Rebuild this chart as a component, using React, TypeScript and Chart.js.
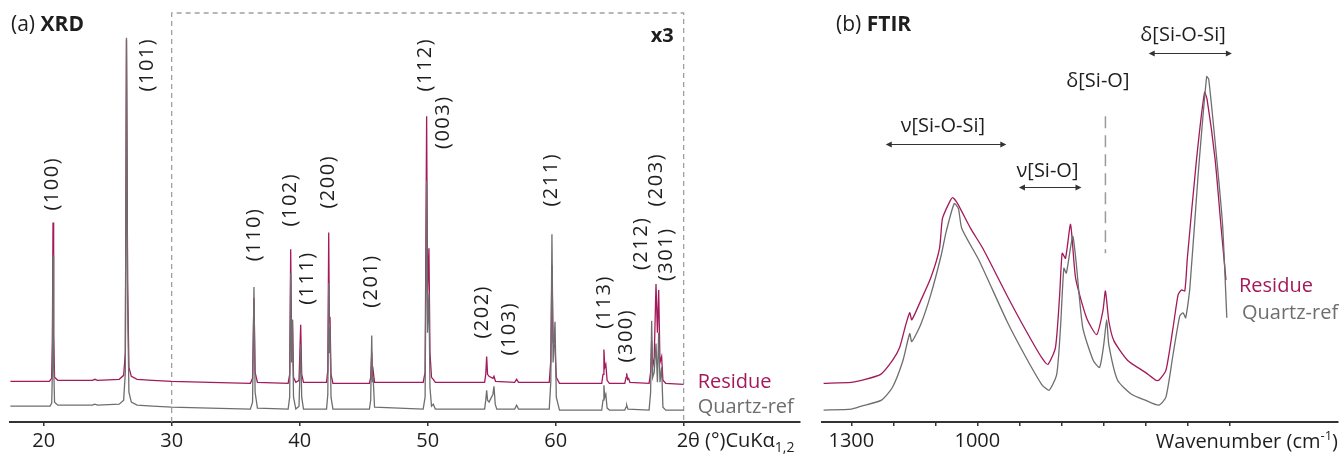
import React, { useEffect, useRef } from 'react';
import { Chart, registerables } from 'chart.js';

Chart.register(...registerables);

const RESIDUE_COLOR = '#a3195b';
const QUARTZ_COLOR = '#6e6e6e';
const TEXT_COLOR = '#1e1e1e';
const FONT = '"Open Sans", "DejaVu Sans", sans-serif';

// ---------------- XRD (2θ in degrees, intensity in a.u.; region 30-70° shown x3) ----------------
const xrdResidueTheta = [
  17.4, 20.45, 20.62, 20.68, 20.73, 20.78, 20.85, 21.1, 23.8, 24.0, 24.2, 25.9, 26.25, 26.38, 26.47, 26.56, 26.66, 26.85, 27.3, 28.5,
  30, 33, 36.15, 36.32, 36.43, 36.52, 36.7, 39.1, 39.22, 39.3, 39.37, 39.44, 39.52, 39.7, 39.95, 40.08, 40.16, 40.3,
  42.1, 42.2, 42.27, 42.32, 42.37, 42.45, 42.6, 45.45, 45.55, 45.63, 45.69, 45.74, 45.85, 49.65, 49.8, 49.92, 49.99, 50.1, 50.18, 50.3, 50.44, 50.6,
  54.45, 54.54, 54.61, 54.68, 54.8, 55.1, 55.18, 55.3, 56.8, 56.95, 57.1, 59.5, 59.62, 59.71, 59.8, 59.95, 60.05, 60.3,
  63.6, 63.7, 63.77, 63.84, 63.92, 64.02, 64.2, 65.4, 65.5, 65.55, 65.62, 65.7, 65.8,
  67.3, 67.42, 67.5, 67.58, 67.7, 67.84, 67.95, 68.05, 68.15, 68.28, 68.38, 68.6, 70,
];
const xrdResidueI = [
  41, 41, 44, 80, 201, 90, 45, 42, 42, 43, 42, 43, 47, 70, 385, 140, 55, 46, 43, 42,
  41, 40, 39, 44, 125, 50, 40, 39, 48, 174, 80, 103, 45, 40, 42, 98, 48, 40,
  40, 52, 191, 100, 106, 48, 39, 39, 45, 70, 48, 52, 40, 40, 50, 308, 130, 175, 70, 45, 43, 40,
  40, 48, 66, 48, 46, 44, 46, 41, 40, 43, 40, 40, 62, 158, 80, 75, 45, 39,
  39, 48, 73, 55, 58, 42, 39, 39, 45, 49, 43, 44, 40,
  39, 50, 82, 55, 65, 139, 90, 133, 60, 66, 42, 39, 38,
];
const xrdQuartzTheta = [
  17.4, 20.5, 20.63, 20.68, 20.73, 20.78, 20.85, 21.1, 23.8, 24.0, 24.2, 25.9, 26.25, 26.38, 26.47, 26.56, 26.66, 26.85, 27.3, 28.5,
  30, 33, 36.15, 36.32, 36.43, 36.52, 36.7, 39.1, 39.22, 39.3, 39.37, 39.44, 39.52, 39.7, 39.95, 40.08, 40.16, 40.3,
  42.1, 42.2, 42.27, 42.32, 42.37, 42.45, 42.6, 45.45, 45.55, 45.63, 45.69, 45.74, 45.85, 49.65, 49.8, 49.92, 49.99, 50.1, 50.18, 50.3, 50.44, 50.6,
  54.45, 54.54, 54.61, 54.68, 54.8, 55.1, 55.18, 55.28, 55.4, 56.8, 56.95, 57.1, 59.5, 59.62, 59.71, 59.8, 59.95, 60.05, 60.3,
  63.6, 63.7, 63.77, 63.84, 63.92, 64.02, 64.2, 65.4, 65.5, 65.55, 65.65,
  67.3, 67.42, 67.5, 67.58, 67.7, 67.84, 67.95, 68.05, 68.15, 68.28, 68.38, 68.6, 70,
];
const xrdQuartzI = [
  16, 16, 19, 50, 168, 60, 20, 17, 17, 18, 17, 18, 22, 50, 387, 120, 30, 20, 17, 16,
  15, 14, 13, 20, 136, 30, 14, 13, 25, 150, 60, 103, 25, 13, 16, 78, 25, 13,
  13, 28, 140, 70, 95, 25, 13, 13, 22, 87, 40, 45, 15, 13, 25, 243, 90, 130, 35, 16, 18, 13,
  13, 22, 32, 22, 20, 28, 36, 18, 13, 13, 17, 13, 13, 40, 189, 60, 101, 25, 12,
  12, 22, 37, 25, 28, 14, 12, 12, 15, 17, 13,
  12, 30, 102, 45, 50, 79, 40, 90, 40, 55, 15, 12, 12,
];
const xrdTicks = [20, 30, 40, 50, 60, 70];
const xrdTickLabels = ['20', '30', '40', '50', '60', ''];
const xrdHkl = ['(100)', '(101)', '(110)', '(102)', '(111)', '(200)', '(201)', '(112)', '(003)', '(202)', '(103)', '(211)', '(113)', '(300)', '(212)', '(203)', '(301)'];
const xrdHklTheta = [20.65, 28.07, 36.43, 39.24, 40.57, 42.21, 45.57, 49.8, 51.2, 54.24, 56.35, 59.63, 63.77, 65.49, 66.66, 67.84, 68.62];
const xrdHklY = [240, 360, 189, 224, 145, 242, 142, 360, 302, 111, 94, 244, 121, 87, 180, 244, 169];

// ---------------- FTIR (wavenumber in cm-1, absorbance in a.u.) ----------------
const ftirResidueWn = [
  1366, 1300, 1276, 1230, 1202, 1185, 1171, 1161, 1156, 1135, 1111, 1090, 1083, 1068, 1059, 1047, 1016, 987, 930, 888, 847, 832,
  814, 804, 798, 790, 778, 766, 740, 716, 701, 695, 687, 675, 642, 600, 575, 568, 551, 534, 522, 514, 506, 500, 478, 459, 453, 434, 420, 408,
];
const ftirResidueA = [
  39, 40, 42, 48, 62, 75, 97, 110, 103, 122, 145, 175, 205, 220, 226, 220, 195, 175, 128, 95, 65, 58,
  75, 128, 170, 165, 199, 145, 105, 88, 112, 132, 102, 82, 62, 50, 42, 42, 52, 95, 128, 133, 132, 165, 265, 332, 325, 265, 198, 143,
];
const ftirQuartzWn = [
  1366, 1300, 1276, 1228, 1202, 1177, 1161, 1156, 1135, 1111, 1086, 1074, 1055, 1045, 1037, 995, 930, 888, 847, 829,
  811, 802, 794, 788, 773, 765, 749, 724, 709, 699, 692, 687, 666, 633, 600, 568, 551, 534, 518, 510, 504, 494, 475, 454, 449, 430, 416, 406,
];
const ftirQuartzA = [
  12, 13, 16, 22, 35, 62, 89, 81, 98, 128, 168, 192, 220, 215, 195, 162, 102, 68, 38, 32,
  48, 95, 155, 150, 187, 162, 95, 62, 55, 78, 103, 78, 42, 28, 22, 17, 25, 68, 107, 110, 105, 135, 245, 348, 345, 265, 198, 105,
];
const ftirTicks = [1300, 1200, 1100, 1000, 900, 800, 700, 600, 500, 400];
const ftirTickLabels = ['1300', '', '', '1000', '', '', '', '', '', ''];
const ftirBands = ['ν[Si-O-Si]', 'ν[Si-O]', 'δ[Si-O]', 'δ[Si-O-Si]'];
const ftirBandWn = [1082, 833, 713, 510];
const ftirBandY = [298, 253, 343, 390];
const ftirArrowFrom = [1218, 901, null, 592];
const ftirArrowTo = [931, 752, null, 394];
const ftirArrowY = [280, 237, null, 372];
const ftirMarkerWn = 695;
const ftirMarkerTop = 308;
const ftirMarkerBottom = 170;

function pts(xs: number[], ys: number[]) {
  return xs.map((x, i) => ({ x, y: ys[i] }));
}

function drawRich(ctx: CanvasRenderingContext2D, parts: { t: string; font: string; dy?: number }[], x: number, y: number, align: 'left' | 'right') {
  let total = 0;
  for (const p of parts) {
    ctx.font = p.font;
    total += ctx.measureText(p.t).width;
  }
  let cx = align === 'left' ? x : x - total;
  ctx.textAlign = 'left';
  for (const p of parts) {
    ctx.font = p.font;
    ctx.fillText(p.t, cx, y + (p.dy || 0));
    cx += ctx.measureText(p.t).width;
  }
}

function arrow(ctx: CanvasRenderingContext2D, x0: number, x1: number, y: number) {
  const hl = 6, hw = 3;
  ctx.beginPath();
  ctx.moveTo(x0 + 2, y);
  ctx.lineTo(x1 - 2, y);
  ctx.stroke();
  const dir = x1 > x0 ? 1 : -1;
  ctx.beginPath();
  ctx.moveTo(x0, y);
  ctx.lineTo(x0 + dir * hl, y - hw);
  ctx.lineTo(x0 + dir * hl, y + hw);
  ctx.closePath();
  ctx.fill();
  ctx.beginPath();
  ctx.moveTo(x1, y);
  ctx.lineTo(x1 - dir * hl, y - hw);
  ctx.lineTo(x1 - dir * hl, y + hw);
  ctx.closePath();
  ctx.fill();
}

const xrdDecor = {
  id: 'xrdDecor',
  beforeDatasetsDraw(chart: any) {
    const { ctx, chartArea, scales } = chart;
    const x = scales.x;
    ctx.save();
    ctx.strokeStyle = '#a0a0a0';
    ctx.lineWidth = 1.3;
    ctx.setLineDash([5, 4]);
    const x0 = x.getPixelForValue(30);
    const x1 = x.getPixelForValue(70);
    ctx.beginPath();
    ctx.moveTo(x0, chartArea.bottom);
    ctx.lineTo(x0, chartArea.top);
    ctx.lineTo(x1, chartArea.top);
    ctx.lineTo(x1, chartArea.bottom);
    ctx.stroke();
    ctx.restore();
  },
  afterDatasetsDraw(chart: any) {
    const { ctx, chartArea, scales } = chart;
    const x = scales.x, y = scales.y;
    ctx.save();
    ctx.fillStyle = TEXT_COLOR;
    ctx.textBaseline = 'middle';
    // hkl labels
    ctx.font = `20px ${FONT}`;
    (ctx as any).letterSpacing = '1.5px';
    xrdHkl.forEach((lab, i) => {
      ctx.save();
      ctx.translate(x.getPixelForValue(xrdHklTheta[i]), y.getPixelForValue(xrdHklY[i]));
      ctx.rotate(-Math.PI / 2);
      ctx.textAlign = 'center';
      ctx.fillText(lab, 0, 0);
      ctx.restore();
    });
    (ctx as any).letterSpacing = '0px';
    // x3
    ctx.font = `bold 20px ${FONT}`;
    ctx.textAlign = 'right';
    ctx.fillText('x3', x.getPixelForValue(70) - 10, chartArea.top + 23);
    // title
    ctx.textBaseline = 'alphabetic';
    drawRich(ctx, [
      { t: '(a) ', font: `21px ${FONT}` },
      { t: 'XRD', font: `bold 21px ${FONT}` },
    ], 11, 31, 'left');
    // legend
    ctx.textBaseline = 'middle';
    ctx.textAlign = 'left';
    ctx.font = `20px ${FONT}`;
    ctx.fillStyle = RESIDUE_COLOR;
    ctx.fillText('Residue', x.getPixelForValue(70) + 14, y.getPixelForValue(40));
    ctx.fillStyle = QUARTZ_COLOR;
    ctx.fillText('Quartz-ref', x.getPixelForValue(70) + 14, y.getPixelForValue(15));
    // axis title
    ctx.fillStyle = TEXT_COLOR;
    ctx.textBaseline = 'alphabetic';
    drawRich(ctx, [
      { t: '2θ (°)CuKα', font: `20px ${FONT}` },
      { t: '1,2', font: `14px ${FONT}`, dy: 5 },
    ], x.getPixelForValue(70) - 7, chartArea.bottom + 25, 'left');
    ctx.restore();
  },
};

const ftirDecor = {
  id: 'ftirDecor',
  afterDatasetsDraw(chart: any) {
    const { ctx, chartArea, scales } = chart;
    const x = scales.x, y = scales.y;
    ctx.save();
    ctx.fillStyle = TEXT_COLOR;
    ctx.strokeStyle = '#333';
    ctx.lineWidth = 1.2;
    ctx.textBaseline = 'middle';
    ctx.textAlign = 'center';
    ctx.font = `20px ${FONT}`;
    ftirBands.forEach((lab, i) => {
      ctx.fillText(lab, x.getPixelForValue(ftirBandWn[i]), y.getPixelForValue(ftirBandY[i]));
      const a = ftirArrowFrom[i], b = ftirArrowTo[i], ay = ftirArrowY[i];
      if (a !== null && b !== null && ay !== null) {
        ctx.fillStyle = '#333';
        arrow(ctx, x.getPixelForValue(a), x.getPixelForValue(b), Math.round(y.getPixelForValue(ay)) + 0.5);
        ctx.fillStyle = TEXT_COLOR;
      }
    });
    // dashed marker
    ctx.save();
    ctx.strokeStyle = '#9a9a9a';
    ctx.lineWidth = 1.5;
    ctx.setLineDash([12, 7]);
    const mx = x.getPixelForValue(ftirMarkerWn);
    ctx.beginPath();
    ctx.moveTo(mx, y.getPixelForValue(ftirMarkerTop));
    ctx.lineTo(mx, y.getPixelForValue(ftirMarkerBottom));
    ctx.stroke();
    ctx.restore();
    // title
    ctx.textBaseline = 'alphabetic';
    drawRich(ctx, [
      { t: '(b) ', font: `21px ${FONT}` },
      { t: 'FTIR', font: `bold 21px ${FONT}` },
    ], chartArea.left + 14, 31, 'left');
    // legend
    ctx.textBaseline = 'middle';
    ctx.textAlign = 'left';
    ctx.font = `20px ${FONT}`;
    ctx.fillStyle = RESIDUE_COLOR;
    ctx.fillText('Residue', x.getPixelForValue(377), y.getPixelForValue(137));
    ctx.fillStyle = QUARTZ_COLOR;
    ctx.fillText('Quartz-ref', x.getPixelForValue(370), y.getPixelForValue(110));
    // axis title
    ctx.fillStyle = TEXT_COLOR;
    ctx.textBaseline = 'alphabetic';
    drawRich(ctx, [
      { t: 'Wavenumber (cm', font: `20px ${FONT}` },
      { t: '-1', font: `13px ${FONT}`, dy: -8 },
      { t: ')', font: `20px ${FONT}` },
    ], chartArea.right, chartArea.bottom + 26, 'right');
    ctx.restore();
  },
};

function axisX(min: number, max: number, ticks: number[], labels: string[], reverse: boolean) {
  return {
    type: 'linear' as const,
    min,
    max,
    reverse,
    afterBuildTicks: (axis: any) => {
      axis.ticks = ticks.map((v) => ({ value: v }));
    },
    grid: {
      display: true,
      drawOnChartArea: false,
      drawTicks: true,
      tickLength: 4,
      color: '#333',
      lineWidth: 1.5,
    },
    border: { display: true, color: '#333', width: 2 },
    ticks: {
      autoSkip: false,
      maxRotation: 0,
      padding: 3,
      color: TEXT_COLOR,
      font: { size: 20, family: FONT },
      callback: (_v: any, i: number) => labels[i] ?? '',
    },
  };
}

function ChartBox(props: { left: number; width: number; build: (c: HTMLCanvasElement) => Chart }) {
  const ref = useRef<HTMLCanvasElement>(null);
  const { build } = props;
  useEffect(() => {
    if (!ref.current) return;
    const ch = build(ref.current);
    return () => ch.destroy();
  }, [build]);
  return (
    <div style={{ position: 'absolute', left: props.left, top: 0, width: props.width, height: 461 }}>
      <canvas ref={ref} width={props.width} height={461} style={{ width: props.width, height: 461 }} />
    </div>
  );
}

const XRD_W = 820;
const FTIR_LEFT = 805;
const FTIR_W = 536;

function buildXrd(c: HTMLCanvasElement) {
  return new Chart(c, {
    type: 'line',
    data: {
      datasets: [
        { label: 'Quartz-ref', data: pts(xrdQuartzTheta, xrdQuartzI), borderColor: QUARTZ_COLOR, borderWidth: 1.3, pointRadius: 0, tension: 0, fill: false },
        { label: 'Residue', data: pts(xrdResidueTheta, xrdResidueI), borderColor: RESIDUE_COLOR, borderWidth: 1.3, pointRadius: 0, tension: 0, fill: false },
      ],
    },
    options: {
      responsive: false,
      animation: false,
      events: [],
      layout: { padding: { left: 10, right: XRD_W - 800, top: 13, bottom: 5 } },
      plugins: { legend: { display: false }, tooltip: { enabled: false } },
      scales: {
        x: axisX(17.37, 79.09, xrdTicks, xrdTickLabels, false),
        y: { display: false, min: 0, max: 412 },
      },
    },
    plugins: [xrdDecor],
  } as any);
}

function buildFtir(c: HTMLCanvasElement) {
  return new Chart(c, {
    type: 'line',
    data: {
      datasets: [
        { label: 'Quartz-ref', data: pts(ftirQuartzWn, ftirQuartzA), borderColor: QUARTZ_COLOR, borderWidth: 1.3, pointRadius: 0, tension: 0.2, fill: false },
        { label: 'Residue', data: pts(ftirResidueWn, ftirResidueA), borderColor: RESIDUE_COLOR, borderWidth: 1.3, pointRadius: 0, tension: 0.2, fill: false },
      ],
    },
    options: {
      responsive: false,
      animation: false,
      events: [],
      layout: { padding: { left: 822 - FTIR_LEFT, right: FTIR_LEFT + FTIR_W - 1338, top: 13, bottom: 5 } },
      plugins: { legend: { display: false }, tooltip: { enabled: false } },
      scales: {
        x: axisX(141.3, 1369.8, ftirTicks, ftirTickLabels, true),
        y: { display: false, min: 0, max: 412 },
      },
    },
    plugins: [ftirDecor],
  } as any);
}

export default function App() {
  return (
    <div style={{ position: 'absolute', left: 0, top: 0, width: 1341, height: 461, background: '#fff', overflow: 'hidden' }}>
      <ChartBox left={0} width={XRD_W} build={buildXrd} />
      <ChartBox left={FTIR_LEFT} width={FTIR_W} build={buildFtir} />
    </div>
  );
}
